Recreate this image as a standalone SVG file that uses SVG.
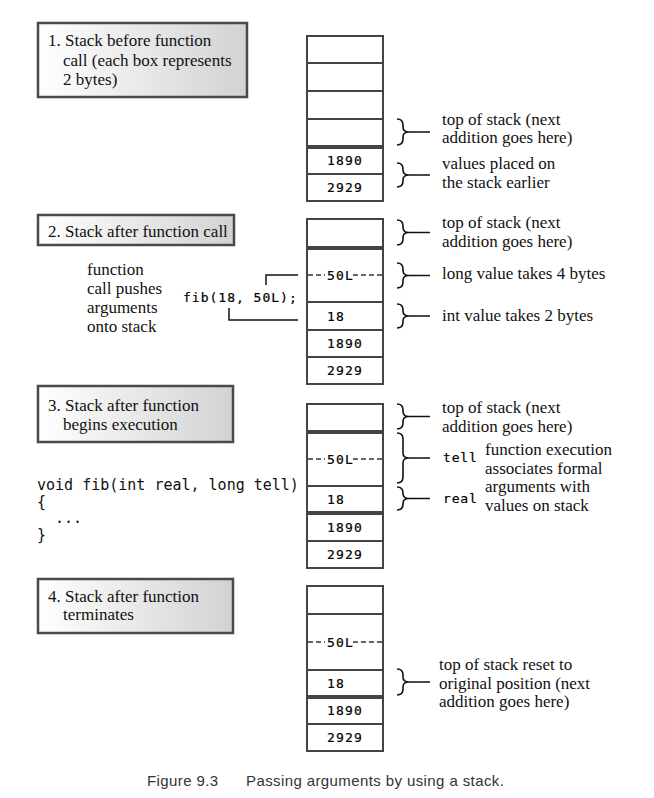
<svg xmlns="http://www.w3.org/2000/svg" width="654" height="798" viewBox="0 0 654 798">
<defs>
<linearGradient id="lbl" x1="0" y1="0" x2="1" y2="0">
<stop offset="0" stop-color="#ffffff"/>
<stop offset="1" stop-color="#d2d2d2"/>
</linearGradient>
</defs>
<style>
.lbox{fill:url(#lbl);stroke:#4a4a4a;stroke-width:2.5}
.cell{fill:#fff;stroke:#444;stroke-width:2}
.div{stroke:#444;stroke-width:2}
.thick{stroke:#444;stroke-width:4}
.dash{stroke:#333;stroke-width:1.3;stroke-dasharray:5 3}
.tx{font-family:'Liberation Serif','Times New Roman','DejaVu Serif',serif;font-size:17px;fill:#111}
.mono{font-family:'DejaVu Sans Mono','Liberation Mono',monospace;font-size:13px;letter-spacing:1.2px;fill:#000;stroke:#000;stroke-width:0.2}
.code{font-family:'DejaVu Sans Mono','Liberation Mono',monospace;font-size:15px;fill:#111}
.brace{fill:none;stroke:#111;stroke-width:1.6}
.conn{fill:none;stroke:#111;stroke-width:1.5}
.cap{font-family:'Liberation Sans',Arial,sans-serif;font-size:15px;letter-spacing:0.4px;fill:#333}
</style>
<rect width="654" height="798" fill="#fff"/>

<g id="label1">
<rect class="lbox" x="38" y="23" width="209" height="74"/>
<text class="tx" font-family="Liberation Serif, serif" x="48" y="46">1. Stack before function</text>
<text class="tx" font-family="Liberation Serif, serif" x="63" y="65.5">call (each box represents</text>
<text class="tx" font-family="Liberation Serif, serif" x="63" y="85">2 bytes)</text>
</g>
<g id="label2">
<rect class="lbox" x="38" y="215" width="196" height="30"/>
<text class="tx" font-family="Liberation Serif, serif" x="48" y="237">2. Stack after function call</text>
</g>
<g id="label3">
<rect class="lbox" x="38" y="386" width="195" height="56"/>
<text class="tx" font-family="Liberation Serif, serif" x="48" y="411">3. Stack after function</text>
<text class="tx" font-family="Liberation Serif, serif" x="63" y="430">begins execution</text>
</g>
<g id="label4">
<rect class="lbox" x="38" y="579" width="195" height="54"/>
<text class="tx" font-family="Liberation Serif, serif" x="48" y="602">4. Stack after function</text>
<text class="tx" font-family="Liberation Serif, serif" x="63" y="620">terminates</text>
</g>

<g id="stack1">
<rect class="cell" x="307" y="36" width="76" height="165"/>
<line class="div" x1="307" y1="63" x2="383" y2="63"/>
<line class="div" x1="307" y1="91" x2="383" y2="91"/>
<line class="div" x1="307" y1="119" x2="383" y2="119"/>
<line class="thick" x1="307" y1="147" x2="383" y2="147"/>
<line class="div" x1="307" y1="174" x2="383" y2="174"/>
<text class="mono" x="327" y="165">1890</text>
<text class="mono" x="327" y="192">2929</text>
</g>

<g id="stack2">
<rect class="cell" x="307" y="219" width="76" height="165"/>
<line class="thick" x1="307" y1="248" x2="383" y2="248"/>
<line class="dash" x1="308" y1="275" x2="325" y2="275"/>
<line class="dash" x1="353" y1="275" x2="383" y2="275"/>
<line class="div" x1="307" y1="302" x2="383" y2="302"/>
<line class="div" x1="307" y1="330" x2="383" y2="330"/>
<line class="div" x1="307" y1="357" x2="383" y2="357"/>
<text class="mono" x="327" y="279.5">50L</text>
<text class="mono" x="327" y="320.5">18</text>
<text class="mono" x="327" y="348">1890</text>
<text class="mono" x="327" y="375">2929</text>
</g>

<g id="stack3">
<rect class="cell" x="307" y="404" width="76" height="164"/>
<line class="thick" x1="307" y1="432" x2="383" y2="432"/>
<line class="dash" x1="308" y1="459" x2="325" y2="459"/>
<line class="dash" x1="353" y1="459" x2="383" y2="459"/>
<line class="div" x1="307" y1="486" x2="383" y2="486"/>
<line class="thick" x1="307" y1="513" x2="383" y2="513"/>
<line class="div" x1="307" y1="541" x2="383" y2="541"/>
<text class="mono" x="327" y="463.5">50L</text>
<text class="mono" x="327" y="504">18</text>
<text class="mono" x="327" y="531.5">1890</text>
<text class="mono" x="327" y="559">2929</text>
</g>

<g id="stack4">
<rect class="cell" x="307" y="586" width="76" height="165"/>
<line class="div" x1="307" y1="614" x2="383" y2="614"/>
<line class="dash" x1="308" y1="642" x2="325" y2="642"/>
<line class="dash" x1="353" y1="642" x2="383" y2="642"/>
<line class="div" x1="307" y1="670" x2="383" y2="670"/>
<line class="thick" x1="307" y1="697" x2="383" y2="697"/>
<line class="div" x1="307" y1="724" x2="383" y2="724"/>
<text class="mono" x="327" y="646.5">50L</text>
<text class="mono" x="327" y="688">18</text>
<text class="mono" x="327" y="715">1890</text>
<text class="mono" x="327" y="742">2929</text>
</g>

<g id="call-text">
<text class="tx" font-family="Liberation Serif, serif" x="87" y="275">function</text>
<text class="tx" font-family="Liberation Serif, serif" x="87" y="294">call pushes</text>
<text class="tx" font-family="Liberation Serif, serif" x="87" y="313">arguments</text>
<text class="tx" font-family="Liberation Serif, serif" x="87" y="332">onto stack</text>
<text class="mono" x="183" y="302" style="letter-spacing:1px">fib(18, 50L);</text>
</g>

<g id="code-text">
<text class="code" x="37" y="490">void fib(int real, long tell)</text>
<text class="code" x="37" y="507">{</text>
<text class="code" x="55" y="523">...</text>
<text class="code" x="37" y="540">}</text>
</g>

<g id="annotations">
<text class="tx" font-family="Liberation Serif, serif" x="442" y="125">top of stack (next</text>
<text class="tx" font-family="Liberation Serif, serif" x="442" y="143">addition goes here)</text>
<text class="tx" font-family="Liberation Serif, serif" x="442" y="169">values placed on</text>
<text class="tx" font-family="Liberation Serif, serif" x="442" y="188">the stack earlier</text>
<text class="tx" font-family="Liberation Serif, serif" x="442" y="228">top of stack (next</text>
<text class="tx" font-family="Liberation Serif, serif" x="442" y="247">addition goes here)</text>
<text class="tx" font-family="Liberation Serif, serif" x="442" y="279">long value takes 4 bytes</text>
<text class="tx" font-family="Liberation Serif, serif" x="442" y="321">int value takes 2 bytes</text>
<text class="tx" font-family="Liberation Serif, serif" x="442" y="413">top of stack (next</text>
<text class="tx" font-family="Liberation Serif, serif" x="442" y="432">addition goes here)</text>
<text class="mono" x="443" y="462" style="letter-spacing:0.8px">tell</text>
<text class="mono" x="443" y="503" style="letter-spacing:0.8px">real</text>
<text class="tx" font-family="Liberation Serif, serif" x="485" y="455">function execution</text>
<text class="tx" font-family="Liberation Serif, serif" x="485" y="474">associates formal</text>
<text class="tx" font-family="Liberation Serif, serif" x="485" y="492">arguments with</text>
<text class="tx" font-family="Liberation Serif, serif" x="485" y="511">values on stack</text>
<text class="tx" font-family="Liberation Serif, serif" x="439" y="670">top of stack reset to</text>
<text class="tx" font-family="Liberation Serif, serif" x="439" y="689">original position (next</text>
<text class="tx" font-family="Liberation Serif, serif" x="439" y="707">addition goes here)</text>
</g>

<g id="connectors">
<path class="conn" d="M266,285 V275 H298"/>
<path class="conn" d="M229,308 V320 H298"/>
<path class="brace" d="M397,119 C401,119 403,121 403,125 L403,127 C403,130 405,132 409,132 C405,132 403,134 403,137 L403,139 C403,143 401,145 397,145"/>
<path class="brace" d="M397,163 C401,163 403,165 403,169 L403,170 C403,173 405,175 409,175 C405,175 403,177 403,180 L403,181 C403,185 401,187 397,187"/>
<path class="brace" d="M397,220 C401,220 403,222 403,226 L403,227.5 C403,230.5 405,232.5 409,232.5 C405,232.5 403,234.5 403,237.5 L403,239 C403,243 401,245 397,245"/>
<path class="brace" d="M397,263 C401,263 403,265 403,269 L403,270.5 C403,273.5 405,275.5 409,275.5 C405,275.5 403,277.5 403,280.5 L403,282 C403,286 401,288 397,288"/>
<path class="brace" d="M397,304 C401,304 403,306 403,310 L403,311 C403,314 405,316 409,316 C405,316 403,318 403,321 L403,322 C403,326 401,328 397,328"/>
<path class="brace" d="M397,404 C401,404 403,406 403,410 L403,411.5 C403,414.5 405,416.5 409,416.5 C405,416.5 403,418.5 403,421.5 L403,423 C403,427 401,429 397,429"/>
<path class="brace" d="M397,433 C401,433 403,435 403,439 L403,453 C403,456 405,458 409,458 C405,458 403,460 403,463 L403,477 C403,481 401,483 397,483"/>
<path class="brace" d="M397,487 C401,487 403,489 403,493 L403,493.5 C403,496.5 405,498.5 409,498.5 C405,498.5 403,500.5 403,503.5 L403,504 C403,508 401,510 397,510"/>
<path class="brace" d="M397,669 C401,669 403,671 403,675 L403,677 C403,680 405,682 409,682 C405,682 403,684 403,687 L403,689 C403,693 401,695 397,695"/>
<path class="conn" d="M409,132 H430 M409,175 H430 M409,232.5 H430 M409,275.5 H430 M409,316 H430 M409,416.5 H430 M409,458 H430 M409,498.5 H430 M409,682 H430"/>
</g>

<g id="caption">
<text class="cap" x="147" y="786">Figure 9.3</text>
<text class="cap" x="246" y="786">Passing arguments by using a stack.</text>
</g>
</svg>
